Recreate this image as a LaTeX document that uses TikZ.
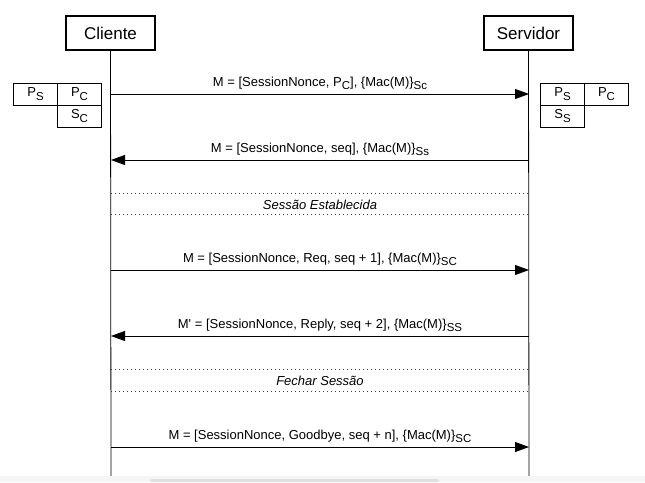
\documentclass[tikz,border=0pt]{standalone}
\usepackage{fontspec}
\setmainfont{Liberation Sans}
\usetikzlibrary{arrows.meta}
\usetikzlibrary{positioning}

\newcommand{\lowsub}[1]{\raisebox{-3.5pt}{\fontsize{11.5}{13}\selectfont #1}}

\begin{document}
\begin{tikzpicture}[
		x=1pt, y=-1pt,
		every node/.style={
			font=\fontsize{13}{15}\selectfont
		},
		actor/.style={
			rectangle,
			draw=black,
			line width=2pt,
			minimum height=34pt,
			minimum width=89pt,
			font=\fontsize{17}{20}\selectfont
		},
		cell/.style={
			rectangle,
			draw=black,
			line width=0.8pt,
			minimum height=22pt,
			minimum width=44pt
		},
		msg/.style={
			draw=black,
			line width=0.8pt,
			-{Triangle[length=14pt,width=10pt]}
		},
		lbl/.style={
			anchor=base,
			yshift=8pt
		},
		sep/.style={
			draw=black!75,
			line width=0.8pt,
			dash pattern=on 1pt off 3pt
		}]

		\useasboundingbox (0,0) rectangle (645,482);

		%actors
		\node[actor] at (110.5,33) (cli) {Cliente};
		\node[actor] at (528.5,33) (srv) {Servidor};

		\coordinate (cend) at (111,476);
		\coordinate (send) at (529,476);
		\draw[line width=0.8pt] (cli.south) -- (cend);
		\draw[line width=0.8pt] (srv.south) -- (send);

		%keys
		\node[cell] at (35.5,94) (lps) {P\lowsub{S}};
		\node[cell, right of=lps, node distance=44pt] (lpc) {P\lowsub{C}};
		\node[cell, below of=lpc, node distance=22pt] (lsc) {S\lowsub{C}};

		\node[cell] at (562.5,94) (rps) {P\lowsub{S}};
		\node[cell, right of=rps, node distance=44pt] (rpc) {P\lowsub{C}};
		\node[cell, below of=rps, node distance=22pt] (rss) {S\lowsub{S}};

		%points on the lifelines
		\foreach \n/\y in {1/94,2/160,3/270,4/336,5/447,6/193,7/214,8/369,9/391}{
			\coordinate (c\n) at (111,\y);
			\coordinate (s\n) at (529,\y);
		}

		%messages
		\draw[msg] (c1) -- node[lbl] {M = [SessionNonce, P\lowsub{C}], \{Mac(M)\}\lowsub{Sc}} (s1);
		\draw[msg] (s2) -- node[lbl] {M = [SessionNonce, seq], \{Mac(M)\}\lowsub{Ss}} (c2);
		\draw[msg] (c3) -- node[lbl] {M = [SessionNonce, Req, seq + 1], \{Mac(M)\}\lowsub{SC}} (s3);
		\draw[msg] (s4) -- node[lbl] {M\textquotesingle{} = [SessionNonce, Reply, seq + 2], \{Mac(M)\}\lowsub{SS}} (c4);
		\draw[msg] (c5) -- node[lbl] {M = [SessionNonce, Goodbye, seq + n], \{Mac(M)\}\lowsub{SC}} (s5);

		%phases
		\draw[sep] (c6) -- (s6);
		\draw[sep] (c7) -- (s7);
		\node[anchor=base] at (320,209) (est) {\itshape Sessão Establecida};

		\draw[sep] (c8) -- (s8);
		\draw[sep] (c9) -- (s9);
		\node[anchor=base] at (320,385) (fch) {\itshape Fechar Sessão};

		%scroll bar
		\fill[black!4] (0,475.5) rectangle (645,482);
		\fill[black!12, rounded corners=2pt] (150,479) rectangle (439,482);

	\end{tikzpicture}
\end{document}
